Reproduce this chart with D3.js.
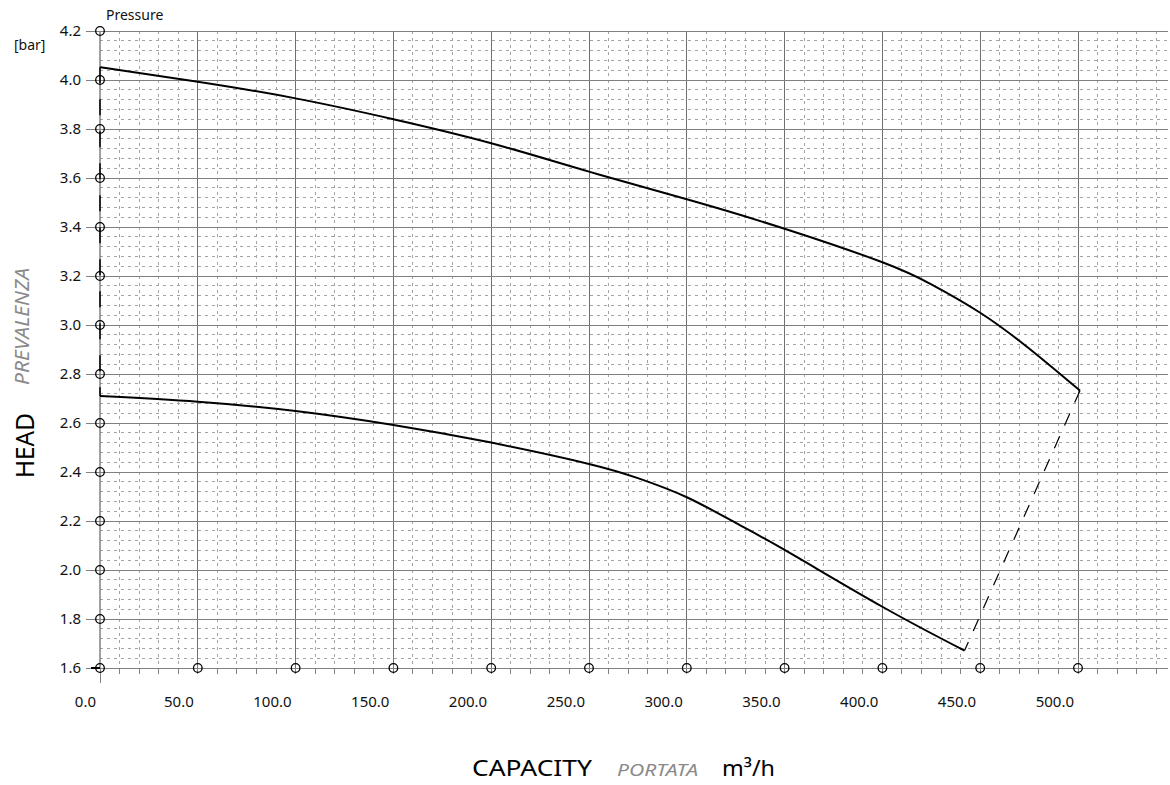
<!DOCTYPE html>
<html>
<head>
<meta charset="utf-8">
<script src="https://cdn.jsdelivr.net/npm/d3@7"></script>
<style>
  html, body { margin: 0; padding: 0; background: #fff; }
  svg { display: block; font-family: "Noto Sans", "Open Sans", sans-serif; }
</style>
</head>
<body>
<svg id="chart" width="1170" height="785"></svg>
<script>
// ---- data ----
const xTicks = [0, 50, 100, 150, 200, 250, 300, 350, 400, 450, 500];
const xTickLabels = ["0.0", "50.0", "100.0", "150.0", "200.0", "250.0", "300.0", "350.0", "400.0", "450.0", "500.0"];
const yTicks = [1.6, 1.8, 2.0, 2.2, 2.4, 2.6, 2.8, 3.0, 3.2, 3.4, 3.6, 3.8, 4.0, 4.2];
const yTickLabels = ["1.6", "1.8", "2.0", "2.2", "2.4", "2.6", "2.8", "3.0", "3.2", "3.4", "3.6", "3.8", "4.0", "4.2"];

// upper curve (capacity m3/h, pressure bar)
const upperQ = [0, 50, 100, 150, 200, 250, 300, 350, 400, 425, 450, 475, 501];
const upperH = [4.052, 3.993, 3.925, 3.840, 3.742, 3.626, 3.513, 3.393, 3.256, 3.166, 3.050, 2.904, 2.732];
// lower curve
const lowerQ = [0, 50, 100, 150, 200, 250, 275, 300, 325, 350, 400, 442];
const lowerH = [2.710, 2.687, 2.649, 2.592, 2.520, 2.433, 2.375, 2.297, 2.192, 2.082, 1.850, 1.671];

// ---- layout ----
const svg = d3.select("#chart");
const x0 = 100, xEnd = 100 + 545 * 1.956;
const x = d3.scaleLinear().domain([0, 545]).range([x0, xEnd]);
const y = d3.scaleLinear().domain([1.6, 4.2]).range([668, 31]);

const g = svg.append("g");

// minor grid (every 10 m3/h and every 0.04 bar)
const minorX = d3.range(10, 541, 10).filter(v => v % 50 !== 0);
const minorY = d3.range(0, 66).map(i => +(1.6 + i * 0.04).toFixed(3)).filter(v => v < 4.2 && Math.abs((v - 1.6) / 0.2 - Math.round((v - 1.6) / 0.2)) > 1e-6);

g.selectAll(".mxv").data(minorX).enter().append("line")
  .attr("x1", d => x(d)).attr("x2", d => x(d))
  .attr("y1", y(4.2)).attr("y2", y(1.6))
  .attr("stroke", "#a4a4a4").attr("stroke-width", 1).attr("stroke-dasharray", "3,4")
  .attr("shape-rendering", "crispEdges");
g.selectAll(".mxh").data(minorY).enter().append("line")
  .attr("x1", x0).attr("x2", 1168)
  .attr("y1", d => y(d)).attr("y2", d => y(d))
  .attr("stroke", "#a4a4a4").attr("stroke-width", 1).attr("stroke-dasharray", "3,4")
  .attr("shape-rendering", "crispEdges");

// major grid
g.selectAll(".MXv").data(xTicks.filter(d => d > 0)).enter().append("line")
  .attr("x1", d => x(d)).attr("x2", d => x(d))
  .attr("y1", y(4.2)).attr("y2", y(1.6))
  .attr("stroke", "#707070").attr("stroke-width", 1)
  .attr("shape-rendering", "crispEdges");
g.selectAll(".MXh").data(yTicks).enter().append("line")
  .attr("x1", 86).attr("x2", 1168)
  .attr("y1", d => y(d)).attr("y2", d => y(d))
  .attr("stroke", "#808080").attr("stroke-width", 1)
  .attr("shape-rendering", "crispEdges");

// x ticks below the axis
g.selectAll(".xt").data(d3.range(0, 541, 10)).enter().append("line")
  .attr("x1", d => x(d)).attr("x2", d => x(d))
  .attr("y1", y(1.6)).attr("y2", d => d === 0 ? y(1.6) + 15 : y(1.6) + 6)
  .attr("stroke", "#808080").attr("stroke-width", 1)
  .attr("shape-rendering", "crispEdges");

// y axis line
g.append("line").attr("x1", x0).attr("x2", x0).attr("y1", y(4.2)).attr("y2", y(1.6))
  .attr("stroke", "#808080").attr("stroke-width", 1.5);

// curves
const line = d3.line().x(d => x(d[0])).y(d => y(d[1])).curve(d3.curveNatural);
const upper = upperQ.map((q, i) => [q, upperH[i]]);
const lower = lowerQ.map((q, i) => [q, lowerH[i]]);
g.append("path").attr("d", line(upper)).attr("fill", "none").attr("stroke", "#000").attr("stroke-width", 2);
g.append("path").attr("d", line(lower)).attr("fill", "none").attr("stroke", "#000").attr("stroke-width", 2);

// dashed connectors between curve ends
const uEnd = upper[upper.length - 1], lEnd = lower[lower.length - 1];
g.append("line")
  .attr("x1", x(uEnd[0])).attr("y1", y(uEnd[1])).attr("x2", x(lEnd[0])).attr("y2", y(lEnd[1]))
  .attr("stroke", "#000").attr("stroke-width", 1.2).attr("stroke-dasharray", "13,12");
g.append("line")
  .attr("x1", x(upper[0][0])).attr("y1", y(upper[0][1])).attr("x2", x(lower[0][0])).attr("y2", y(lower[0][1]))
  .attr("stroke", "#000").attr("stroke-width", 1.5).attr("stroke-dasharray", "16,16");
g.append("line").attr("x1", x0 - 9).attr("x2", x0).attr("y1", y(1.6)).attr("y2", y(1.6))
  .attr("stroke", "#000").attr("stroke-width", 2);

// circle markers
g.selectAll(".cy").data(yTicks).enter().append("circle")
  .attr("cx", x0).attr("cy", d => y(d)).attr("r", 4.3)
  .attr("fill", "none").attr("stroke", "#000").attr("stroke-width", 1.3);
g.selectAll(".cx").data(xTicks.filter(d => d > 0)).enter().append("circle")
  .attr("cx", d => x(d)).attr("cy", y(1.6)).attr("r", 4.3)
  .attr("fill", "none").attr("stroke", "#000").attr("stroke-width", 1.3);

// tick labels
g.selectAll(".yl").data(yTicks).enter().append("text")
  .attr("x", 81).attr("y", d => y(d) + 5)
  .attr("text-anchor", "end").attr("font-size", 15).attr("fill", "#111")
  .text((d, i) => yTickLabels[i]);
g.selectAll(".xl").data(xTicks).enter().append("text")
  .attr("x", d => x(d) - 4).attr("y", 707)
  .attr("text-anchor", "end").attr("font-size", 15).attr("fill", "#111")
  .text((d, i) => xTickLabels[i]);

// titles
svg.append("text").attr("x", 106).attr("y", 20).attr("font-size", 14).attr("fill", "#111").text("Pressure");
svg.append("text").attr("x", 14).attr("y", 50).attr("font-size", 14).attr("fill", "#111").text("[bar]");

svg.append("text").attr("transform", "translate(34,445.5) rotate(-90)")
  .attr("text-anchor", "middle").attr("font-size", 25).attr("fill", "#000")
  .attr("textLength", 65).attr("lengthAdjust", "spacingAndGlyphs").text("HEAD");
svg.append("text").attr("transform", "translate(29,326.5) rotate(-90)")
  .attr("text-anchor", "middle").attr("font-size", 19).attr("font-style", "italic").attr("fill", "#8a8a8a")
  .attr("textLength", 117).attr("lengthAdjust", "spacingAndGlyphs").text("PREVALENZA");

svg.append("text").attr("x", 472).attr("y", 776).attr("font-size", 22).attr("fill", "#000")
  .attr("textLength", 120).attr("lengthAdjust", "spacingAndGlyphs").text("CAPACITY");
svg.append("text").attr("x", 617).attr("y", 776).attr("font-size", 17).attr("font-style", "italic").attr("fill", "#8a8a8a")
  .attr("textLength", 81).attr("lengthAdjust", "spacingAndGlyphs").text("PORTATA");
svg.append("text").attr("x", 722).attr("y", 776).attr("font-size", 22).attr("fill", "#000")
  .attr("textLength", 53).attr("lengthAdjust", "spacingAndGlyphs").text("m³/h");
</script>
</body>
</html>
